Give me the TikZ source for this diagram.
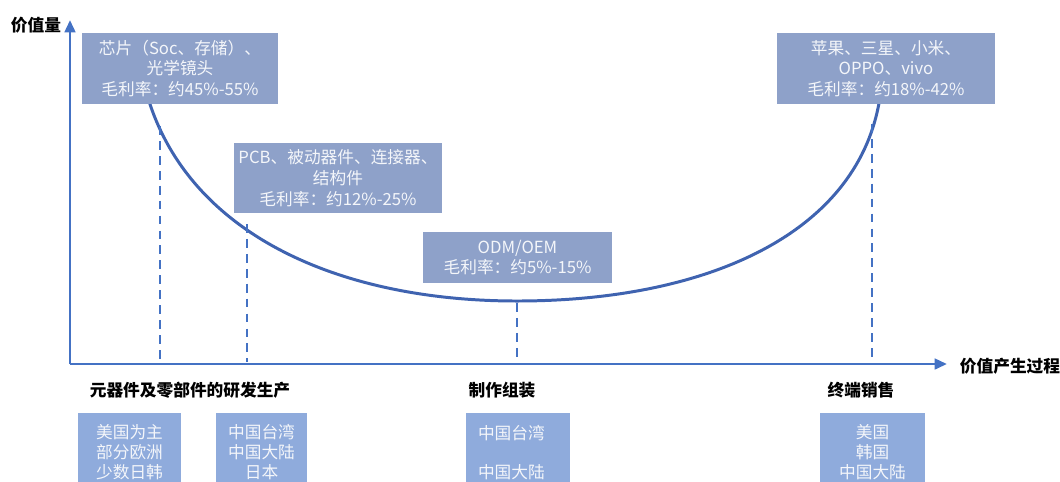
\documentclass[tikz,border=0pt]{standalone}
\usepackage{fontspec}
\setmainfont{Noto Sans CJK SC}
\usetikzlibrary{arrows.meta}
\definecolor{axisblue}{HTML}{4472C4}
\definecolor{curveblue}{HTML}{3F63B0}
\definecolor{topbox}{HTML}{8EA1C9}
\definecolor{botbox}{HTML}{8FABDC}
\definecolor{boxtext}{HTML}{F4F6FA}
\tikzset{
  toplbl/.style={fill=topbox, text=boxtext, align=center, inner sep=0pt,
    font=\fontsize{9.5}{11.8}\selectfont},
  botlbl/.style={fill=botbox, text=boxtext, align=center, inner sep=0pt,
    minimum height=1.56cm, anchor=north, font=\fontsize{9.5}{11.3}\selectfont},
  catlbl/.style={font=\fontsize{9.5}{11}\selectfont\bfseries, text=black, inner sep=0pt},
  axisline/.style={axisblue, line width=1.6pt, -{Triangle[length=7pt,width=6pt]}},
  guide/.style={axisblue, line width=1.1pt, dash pattern=on 5pt off 3.5pt},
  ucurve/.style={curveblue, line width=1.7pt}
}
\begin{document}
\begin{tikzpicture}[x=0.02cm, y=-0.02cm]
\useasboundingbox (0,0) rectangle (1060,481);
% axes
\coordinate (O) at (70,364);
\coordinate (Ytop) at (70,20);
\coordinate (Xend) at (947,364);
\draw[axisline] (O) -- (Ytop);
\draw[axisline] (O) -- (Xend);
\node[catlbl] (ylab) at (36,25) {价值量};
\node[catlbl] (xlab) at (1010,366) {价值产生过程};
% curve
\coordinate (c0) at (148,98);
\coordinate (cm) at (517,301);
\coordinate (c1) at (879,103);
\draw[ucurve] (c0) .. controls (190,235) and (340,301) .. (cm)
  .. controls (705,301) and (855,235) .. (c1);
% dashed guides
\coordinate (g1t) at (160,126);
\coordinate (g1b) at (160,362);
\coordinate (g2t) at (247,224);
\coordinate (g2b) at (247,362);
\coordinate (g3t) at (517,303);
\coordinate (g3b) at (517,362);
\coordinate (g4t) at (872,124);
\coordinate (g4b) at (872,362);
\draw[guide] (g1t) -- (g1b);
\draw[guide] (g2t) -- (g2b);
\draw[guide] (g3t) -- (g3b);
\draw[guide] (g4t) -- (g4b);
% top boxes
\node[toplbl, minimum width=3.92cm, minimum height=1.42cm] (chip) at (180,68.5)
  {芯片（Soc、存储）、\\光学镜头\\毛利率：约45\%-55\%};
\node[toplbl, minimum width=4.36cm, minimum height=1.42cm] (brand) at (886,68.5)
  {苹果、三星、小米、\\OPPO、vivo\\毛利率：约18\%-42\%};
\node[toplbl, minimum width=4.16cm, minimum height=1.40cm] (pcb) at (338,178)
  {PCB、被动器件、连接器、\\结构件\\毛利率：约12\%-25\%};
\node[toplbl, minimum width=3.78cm, minimum height=1.02cm] (odm) at (517.5,257.5)
  {ODM/OEM\\毛利率：约5\%-15\%};
% categories
\node[catlbl] (cat1) at (190,390) {元器件及零部件的研发生产};
\node[catlbl] (cat2) at (502,390) {制作组装};
\node[catlbl] (cat3) at (861,390) {终端销售};
% bottom boxes
\node[botlbl, minimum width=2.06cm] (bA) at (129.5,413) {美国为主\\部分欧洲\\少数日韩};
\node[botlbl, minimum width=1.82cm] (bB) at (261.5,413) {中国台湾\\中国大陆\\日本};
\node[botlbl, inner xsep=0.24cm, text width=1.6cm, align=left] (bC) at (518,413) {中国台湾\\[1.15em]中国大陆};
\node[botlbl, minimum width=2.10cm] (bD) at (872.5,413) {美国\\韩国\\中国大陆};
\end{tikzpicture}
\end{document}
